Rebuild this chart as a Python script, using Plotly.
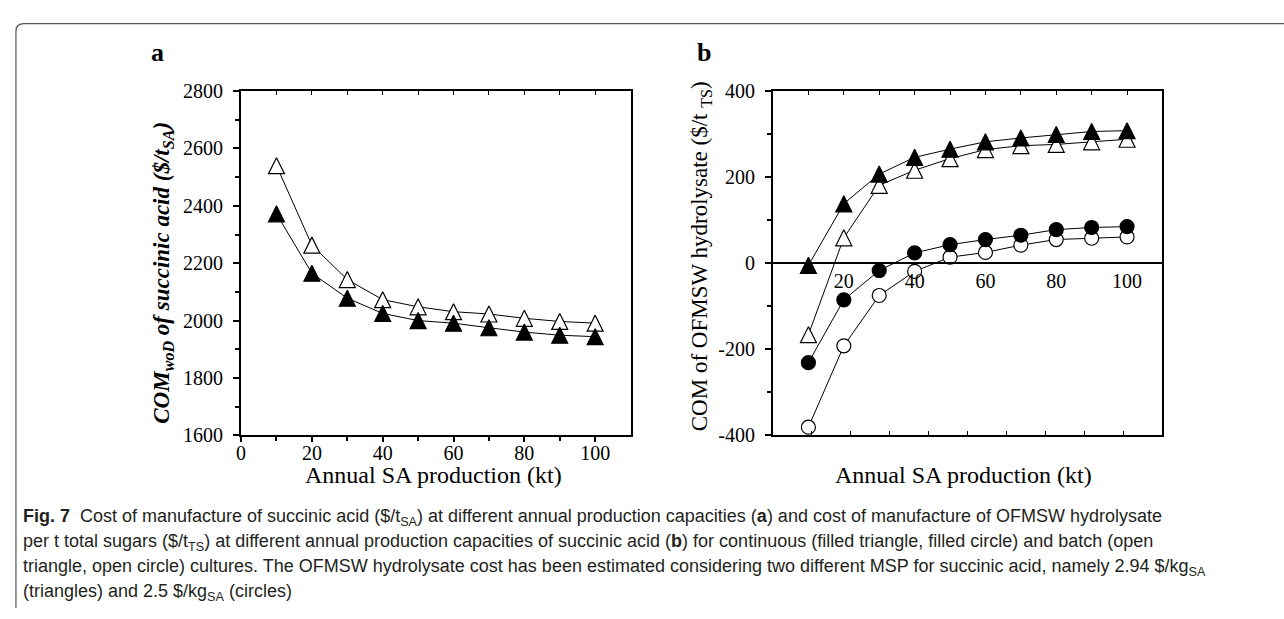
import plotly.graph_objects as go

W, H = 1284, 619

# ---------------- data ----------------
production_kt = [10, 20, 30, 40, 50, 60, 70, 80, 90, 100]

# panel a : COM_woD of succinic acid ($/t_SA)
a_batch_open_tri = [2540, 2263, 2143, 2073, 2048, 2031, 2023, 2008, 1997, 1991]
a_cont_filled_tri = [2372, 2165, 2078, 2025, 2000, 1991, 1975, 1960, 1949, 1944]

# panel b : COM of OFMSW hydrolysate ($/t_TS)
b_cont_filled_tri = [-5, 138, 207, 246, 265, 282, 291, 299, 306, 308]
b_batch_open_tri = [-166, 59, 181, 216, 243, 264, 273, 276, 282, 288]
b_cont_filled_circ = [-231, -85, -17, 24, 43, 55, 65, 78, 83, 85]
b_batch_open_circ = [-381, -192, -75, -19, 14, 25, 42, 55, 58, 61]

a_xticks = [0, 20, 40, 60, 80, 100]
a_yticks = [1600, 1800, 2000, 2200, 2400, 2600, 2800]
b_xticks = [20, 40, 60, 80, 100]
b_yticks = [-400, -200, 0, 200, 400]

caption_lines = [
    "<b>Fig. 7</b>  Cost of manufacture of succinic acid ($/t<sub>SA</sub>) at different annual production capacities (<b>a</b>) and cost of manufacture of OFMSW hydrolysate",
    "per t total sugars ($/t<sub>TS</sub>) at different annual production capacities of succinic acid (<b>b</b>) for continuous (filled triangle, filled circle) and batch (open",
    "triangle, open circle) cultures. The OFMSW hydrolysate cost has been estimated considering two different MSP for succinic acid, namely 2.94 $/kg<sub>SA</sub>",
    "(triangles) and 2.5 $/kg<sub>SA</sub> (circles)",
]

# ---------------- helpers ----------------
def px(x):
    return x / W

def py(y):
    return 1 - y / H

SERIF = "Liberation Serif, Times New Roman, serif"
SANS = "Liberation Sans, Arial, sans-serif"
TICKFONT = dict(family=SERIF, size=20, color="black")

A_L, A_R = 237, 628
B_L, B_R = 771, 1162
TOP, BOT = 83, 440

fig = go.Figure()

TRI_SIZE = 16
CIRC_SIZE = 14

def add_series(x, y, kind, filled, xa, ya):
    if kind == "tri":
        # upward triangle (equal width/height), centred on the point
        mk = dict(symbol="arrow-down", angle=180, standoff=TRI_SIZE / 2, size=TRI_SIZE)
    else:
        mk = dict(symbol="circle", size=CIRC_SIZE)
    mk.update(color="black" if filled else "white",
              line=dict(color="black", width=1.2))
    fig.add_trace(go.Scatter(
        x=x, y=y, mode="lines+markers", xaxis=xa, yaxis=ya,
        line=dict(color="black", width=1),
        marker=mk, showlegend=False, hoverinfo="x+y"))

add_series(production_kt, a_batch_open_tri, "tri", False, "x", "y")
add_series(production_kt, a_cont_filled_tri, "tri", True, "x", "y")

add_series(production_kt, b_batch_open_circ, "circ", False, "x2", "y2")
add_series(production_kt, b_cont_filled_circ, "circ", True, "x2", "y2")
add_series(production_kt, b_batch_open_tri, "tri", False, "x2", "y2")
add_series(production_kt, b_cont_filled_tri, "tri", True, "x2", "y2")

# invisible helper traces so the decorative tick axes get drawn
for xa, ya in [("x3", "y2"), ("x4", "y"), ("x5", "y2")]:
    fig.add_trace(go.Scatter(x=[None], y=[None], xaxis=xa, yaxis=ya,
                             mode="markers", showlegend=False, hoverinfo="skip"))

ydom = [py(BOT), py(TOP)]

fig.update_layout(
    width=W, height=H,
    margin=dict(l=0, r=0, t=0, b=0),
    paper_bgcolor="white", plot_bgcolor="white",
    showlegend=False,
    # ---- panel a ----
    xaxis=dict(domain=[px(A_L), px(A_R)], range=[0, 110], anchor="y",
               tickvals=a_xticks, ticks="outside", ticklen=5, tickwidth=1.5,
               tickcolor="black", showline=True, linewidth=2, linecolor="black",
               mirror=True, showgrid=False, zeroline=False, tickfont=TICKFONT,
               ticklabelstandoff=-6,
               minor=dict(tickvals=[10, 30, 50, 70, 90], ticks="outside",
                          ticklen=4, tickwidth=1.5, tickcolor="black", showgrid=False)),
    yaxis=dict(domain=ydom, range=[1600, 2800], anchor="x",
               tickvals=a_yticks, ticktext=[str(v) for v in a_yticks],
               ticks="outside", ticklen=6, tickwidth=1.5,
               tickcolor="black", showline=True, linewidth=2, linecolor="black",
               mirror=True, showgrid=False, zeroline=False, tickfont=TICKFONT,
               ticklabelstandoff=6,
               minor=dict(tickvals=[1700, 1900, 2100, 2300, 2500, 2700], ticks="outside",
                          ticklen=4, tickwidth=1.5, tickcolor="black", showgrid=False)),
    xaxis4=dict(overlaying="x", side="top", anchor="y", range=[0, 110],
                tickvals=list(range(0, 111, 10)), ticks="inside", ticklen=4,
                tickwidth=1.2, tickcolor="black", showticklabels=False,
                showline=False, showgrid=False, zeroline=False),
    # ---- panel b ----
    xaxis2=dict(domain=[px(B_L), px(B_R)], range=[0, 110], anchor="free",
                position=(ydom[0] + ydom[1]) / 2,
                tickvals=b_xticks, ticks="", showline=True, linewidth=2,
                linecolor="black", showgrid=False, zeroline=False, tickfont=TICKFONT),
    yaxis2=dict(domain=ydom, range=[-400, 400], anchor="x2",
                tickvals=b_yticks, ticktext=[str(v) for v in b_yticks],
                ticks="outside", ticklen=6, tickwidth=1.5,
                tickcolor="black", showline=True, linewidth=2, linecolor="black",
                mirror=True, showgrid=False, zeroline=False, tickfont=TICKFONT,
                ticklabelstandoff=6,
                minor=dict(tickvals=[-300, -100, 100, 300], ticks="outside",
                           ticklen=4, tickwidth=1.5, tickcolor="black", showgrid=False)),
    xaxis3=dict(overlaying="x2", anchor="y2", side="bottom", range=[0, 10],
                tickvals=list(range(1, 10)), ticks="inside", ticklen=4, tickwidth=1.2,
                tickcolor="black", showticklabels=False, showline=True, linewidth=2,
                linecolor="black", mirror=True, showgrid=False, zeroline=False),
    xaxis5=dict(overlaying="x2", anchor="y2", side="top", range=[0, 110],
                tickvals=list(range(10, 110, 10)), ticks="inside", ticklen=4,
                tickwidth=1.2, tickcolor="black", showticklabels=False,
                showline=False, showgrid=False, zeroline=False),
)

ann = []
# panel letters
ann.append(dict(x=px(153), y=py(43), text="<b>a</b>", showarrow=False,
                font=dict(family=SERIF, size=26, color="black"),
                xref="paper", yref="paper", xanchor="center", yanchor="middle"))
ann.append(dict(x=px(702), y=py(43), text="<b>b</b>", showarrow=False,
                font=dict(family=SERIF, size=26, color="black"),
                xref="paper", yref="paper", xanchor="center", yanchor="middle"))
# axis titles
ann.append(dict(x=px(430), y=py(481), text="Annual SA production (kt)", showarrow=False,
                font=dict(family=SERIF, size=24, color="black"),
                xref="paper", yref="paper", xanchor="center", yanchor="middle"))
ann.append(dict(x=px(962), y=py(481), text="Annual SA production (kt)", showarrow=False,
                font=dict(family=SERIF, size=24, color="black"),
                xref="paper", yref="paper", xanchor="center", yanchor="middle"))
ann.append(dict(x=px(159), y=py(271), textangle=-90,
                text="<b><i>COM<sub>woD</sub> of succinic acid ($/t<sub>SA</sub>)</i></b>",
                showarrow=False, font=dict(family=SERIF, size=23, color="black"),
                xref="paper", yref="paper", xanchor="center", yanchor="middle"))
ann.append(dict(x=px(699), y=py(254), textangle=-90,
                text="COM of OFMSW hydrolysate ($/t <sub>TS</sub>)",
                showarrow=False, font=dict(family=SERIF, size=23, color="black"),
                xref="paper", yref="paper", xanchor="center", yanchor="middle"))
# caption
for i, line in enumerate(caption_lines):
    ann.append(dict(x=px(16), y=py(525 + 26 * i), text=line, showarrow=False,
                    font=dict(family=SANS, size=18, color="#231f20"),
                    xref="paper", yref="paper", xanchor="left", yanchor="middle"))
fig.update_layout(annotations=ann)

# rounded frame (top + left edges)
r = 8
x0, y0 = 11, 13
path = (f"M {px(x0)},{py(H)} L {px(x0)},{py(y0 + r)} "
        f"Q {px(x0)},{py(y0)} {px(x0 + r)},{py(y0)} L {px(W)},{py(y0)}")
fig.add_shape(type="path", path=path, xref="paper", yref="paper",
              line=dict(color="#555555", width=1.2))

fig.write_html("out.html")
